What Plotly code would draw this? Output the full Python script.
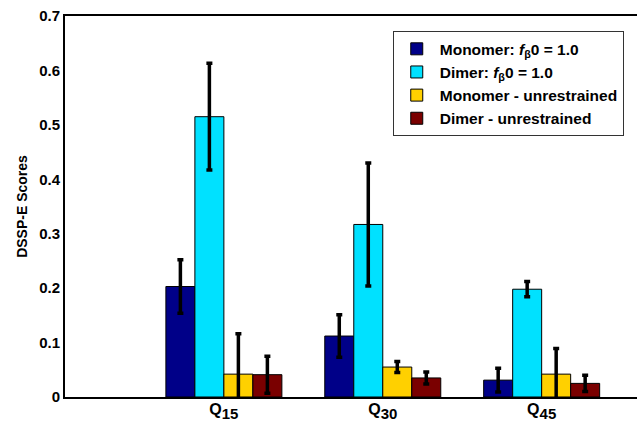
import plotly.graph_objects as go

categories = [
    "Q<sub><span style='font-size:15px'>15</span></sub>",
    "Q<sub><span style='font-size:15px'>30</span></sub>",
    "Q<sub><span style='font-size:15px'>45</span></sub>",
]
x_pos = [1, 2, 3]

series_names = [
    "Monomer: <i>f</i><sub>β</sub>0 = 1.0",
    "Dimer: <i>f</i><sub>β</sub>0 = 1.0",
    "Monomer - unrestrained",
    "Dimer - unrestrained",
]
monomer_fb = [0.203, 0.112, 0.031]
monomer_fb_err = [0.049, 0.039, 0.022]
dimer_fb = [0.515, 0.317, 0.198]
dimer_fb_err = [0.098, 0.113, 0.014]
monomer_unr = [0.042, 0.055, 0.042]
monomer_unr_err = [0.074, 0.010, 0.047]
dimer_unr = [0.041, 0.035, 0.025]
dimer_unr_err = [0.034, 0.011, 0.015]

values = [monomer_fb, dimer_fb, monomer_unr, dimer_unr]
errors = [monomer_fb_err, dimer_fb_err, monomer_unr_err, dimer_unr_err]
colors = ["#000088", "#00E1FF", "#FFD000", "#7A0000"]

fig = go.Figure()
for name, v, e, c in zip(series_names, values, errors, colors):
    fig.add_trace(go.Bar(
        x=x_pos, y=v, name=name,
        marker=dict(color=c, line=dict(color="black", width=1)),
        error_y=dict(type="data", array=e, visible=True, color="black",
                     thickness=3.5, width=3),
    ))

font_family = "Liberation Sans, Arial, sans-serif"
fig.update_layout(
    width=638, height=422,
    margin=dict(l=65, r=1, t=16, b=25),
    paper_bgcolor="white", plot_bgcolor="white",
    barmode="group", bargap=0.27, bargroupgap=0,
    font=dict(family=font_family, size=15, color="black"),
    showlegend=True,
    legend=dict(
        x=0.573, y=0.96, xanchor="left", yanchor="top",
        bgcolor="white", bordercolor="#333333", borderwidth=1,
        font=dict(family=font_family, size=15.5, color="black", weight="bold"),
        traceorder="normal", itemwidth=36,
    ),
    xaxis=dict(
        range=[0.0, 3.6], tickvals=x_pos, ticktext=categories,
        showline=True, linecolor="black", linewidth=2, mirror=True,
        showgrid=False, zeroline=False, ticks="", automargin=False,
        ticklabelstandoff=-3,
        tickfont=dict(family=font_family, size=16, color="black", weight="bold"),
    ),
    yaxis=dict(
        range=[0, 0.7], dtick=0.1, tickformat="~g",
        showline=True, linecolor="black", linewidth=2,
        showgrid=False, zeroline=False, ticks="", automargin=False,
        tickfont=dict(family=font_family, size=15, color="black", weight="bold"),
        title=dict(text="DSSP-E Scores", standoff=8,
                   font=dict(family=font_family, size=14, color="black", weight="bold")),
    ),
)

fig.write_html("out.html")
